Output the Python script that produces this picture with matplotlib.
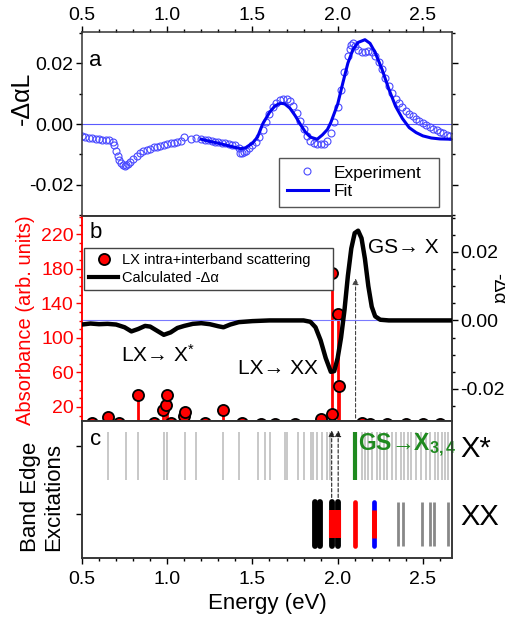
import matplotlib
matplotlib.use('Agg')
from matplotlib import pyplot as plt
from matplotlib.lines import Line2D
from matplotlib.ticker import MultipleLocator, FormatStrFormatter

# ---- data ----
# panel a: measured -dalpha*L (open circles)
exp_x = [0.50, 0.52, 0.54, 0.56, 0.58, 0.60, 0.62, 0.64, 0.66, 0.68, 0.69, 0.70, 0.71, 0.72,
         0.73, 0.74, 0.75, 0.76, 0.77, 0.78, 0.80, 0.82, 0.84, 0.86, 0.88, 0.90, 0.92, 0.94,
         0.96, 0.98, 1.00, 1.02, 1.04, 1.06, 1.08, 1.10, 1.14, 1.17, 1.20, 1.22, 1.24, 1.26,
         1.28, 1.30, 1.32, 1.34, 1.36, 1.38, 1.40, 1.42, 1.43, 1.44, 1.45, 1.46, 1.48, 1.50,
         1.52, 1.54, 1.56, 1.58, 1.60, 1.62, 1.64, 1.66, 1.68, 1.70, 1.72, 1.74, 1.76, 1.78,
         1.80, 1.82, 1.84, 1.86, 1.88, 1.90, 1.92, 1.94, 1.96, 1.98, 2.00, 2.02, 2.04, 2.06,
         2.07, 2.08, 2.09, 2.10, 2.12, 2.14, 2.16, 2.18, 2.20, 2.22, 2.24, 2.26, 2.28, 2.30,
         2.32, 2.34, 2.36, 2.38, 2.40, 2.42, 2.44, 2.46, 2.48, 2.50, 2.52, 2.54, 2.56, 2.58,
         2.60, 2.62, 2.64, 2.66]
exp_y = [-0.0040, -0.0043, -0.0045, -0.0047, -0.0049, -0.0050, -0.0052, -0.0052, -0.0051,
         -0.0058, -0.0070, -0.0088, -0.0105, -0.0118, -0.0128, -0.0134, -0.0137, -0.0135,
         -0.0130, -0.0124, -0.0114, -0.0104, -0.0096, -0.0090, -0.0085, -0.0081, -0.0077,
         -0.0074, -0.0071, -0.0068, -0.0066, -0.0064, -0.0061, -0.0059, -0.0057, -0.0042,
         -0.0049, -0.0046, -0.0050, -0.0052, -0.0054, -0.0056, -0.0058, -0.0060, -0.0062,
         -0.0064, -0.0066, -0.0068, -0.0070, -0.0080, -0.0094, -0.0096, -0.0092, -0.0087,
         -0.0080, -0.0070, -0.0058, -0.0042, -0.0020, 0.0005, 0.0032, 0.0055, 0.0070, 0.0079,
         0.0083, 0.0082, 0.0074, 0.0058, 0.0035, 0.0010, -0.0018, -0.0040, -0.0055, -0.0063,
         -0.0066, -0.0066, -0.0065, -0.0055, -0.0030, 0.0008, 0.0055, 0.0112, 0.0170, 0.0222,
         0.0245, 0.0260, 0.0265, 0.0255, 0.0243, 0.0238, 0.0237, 0.0240, 0.0237, 0.0225,
         0.0205, 0.0180, 0.0152, 0.0125, 0.0102, 0.0083, 0.0068, 0.0055, 0.0043, 0.0034,
         0.0026, 0.0018, 0.0011, 0.0004, -0.0003, -0.0009, -0.0015, -0.0021, -0.0026, -0.0031,
         -0.0035, -0.0040]

# panel a: fit
fit_x = [1.20, 1.25, 1.30, 1.35, 1.40, 1.43, 1.46, 1.50, 1.53, 1.56, 1.60, 1.63, 1.65, 1.67,
         1.69, 1.72, 1.75, 1.78, 1.81, 1.84, 1.88, 1.91, 1.94, 1.96, 2.00, 2.03, 2.06, 2.09,
         2.12, 2.16, 2.19, 2.22, 2.26, 2.30, 2.34, 2.38, 2.42, 2.46, 2.50, 2.55, 2.60, 2.67]
fit_y = [-0.0050, -0.0057, -0.0063, -0.0070, -0.0077, -0.0081, -0.0078, -0.0063, -0.0043,
         0.0000, 0.0038, 0.0058, 0.0065, 0.0068, 0.0066, 0.0052, 0.0028, 0.0000, -0.0026,
         -0.0043, -0.0050, -0.0036, -0.0018, 0.0005, 0.0065, 0.0134, 0.0200, 0.0245, 0.0268,
         0.0277, 0.0265, 0.0235, 0.0180, 0.0115, 0.0058, 0.0018, -0.0012, -0.0028, -0.0039,
         -0.0046, -0.0049, -0.0050]

# panel b: calculated -dalpha (right axis)
calc_x = [0.50, 0.55, 0.60, 0.65, 0.70, 0.75, 0.79, 0.83, 0.87, 0.90, 0.94, 0.98, 1.02, 1.06,
          1.10, 1.15, 1.20, 1.25, 1.30, 1.33, 1.37, 1.42, 1.50, 1.60, 1.70, 1.80, 1.84, 1.87,
          1.90, 1.93, 1.96, 1.98, 2.00, 2.02, 2.04, 2.06, 2.08, 2.10, 2.12, 2.14, 2.16, 2.18,
          2.20, 2.22, 2.25, 2.30, 2.67]
calc_y = [-0.0012, -0.0009, -0.0011, -0.0010, -0.0012, -0.0020, -0.0032, -0.0025, -0.0016,
          -0.0018, -0.0030, -0.0042, -0.0035, -0.0022, -0.0016, -0.0010, -0.0008, -0.0011,
          -0.0017, -0.0020, -0.0012, -0.0005, -0.0002, 0.0000, 0.0000, 0.0000, -0.0004,
          -0.0020, -0.0058, -0.0110, -0.0150, -0.0148, -0.0110, -0.0050, 0.0030, 0.0130,
          0.0210, 0.0255, 0.0262, 0.0240, 0.0180, 0.0100, 0.0040, 0.0012, 0.0002, 0.0000,
          0.0000]

# panel b: LX intra+interband scattering absorbance (left axis)
lx_x = [0.56, 0.655, 0.72, 0.83, 0.92, 0.977, 0.993, 1.00, 1.02, 1.10, 1.105, 1.22, 1.33,
        1.44, 1.55, 1.63, 1.75, 1.90, 1.965, 1.965, 2.003, 2.007, 2.14, 2.19, 2.29, 2.40,
        2.50, 2.60]
lx_y = [1, 8, 1, 34, 1, 17, 22, 34, 1, 9, 14, 1, 16, 1, 0.5, 0.5, 0.5, 6, 12, 175, 127, 44,
        1, 0.5, 0.5, 0.5, 0.5, 0.5]

# panel c: band edge excitations
xstar_x = [0.654, 0.756, 0.830, 0.981, 1.000, 1.104, 1.169, 1.330, 1.420, 1.534, 1.573,
           1.606, 1.694, 1.703, 1.769, 1.804, 1.841, 1.857, 1.880, 1.906, 1.935, 1.955,
           2.14, 2.16, 2.18, 2.20, 2.23, 2.25, 2.27, 2.29, 2.32, 2.34, 2.37, 2.39, 2.41,
           2.43, 2.46, 2.49, 2.52, 2.54, 2.57, 2.59, 2.61, 2.63, 2.65]
gs_x = 2.10
xx_black = [1.870, 1.899]
xx_black_red = [1.965, 2.003]
xx_red = [2.10]
xx_blue_red = [2.213]
xx_gray = [2.355, 2.381, 2.492, 2.541, 2.566, 2.648]
arrow_b_x = 2.105
arrow_c_x = [1.965, 2.003]
row_labels = ['X*', 'XX']

# ---- style ----
plt.rcParams['font.family'] = ['Liberation Sans', 'DejaVu Sans']
plt.rcParams['mathtext.fontset'] = 'custom'
plt.rcParams['mathtext.rm'] = 'Liberation Sans'
plt.rcParams['mathtext.it'] = 'Liberation Sans:italic'
plt.rcParams['mathtext.bf'] = 'Liberation Sans:bold'
plt.rcParams['axes.unicode_minus'] = False
plt.rcParams['axes.linewidth'] = 1.1
plt.rcParams['axes.edgecolor'] = '#333333'
for ax_name in ['xtick', 'ytick']:
    plt.rcParams[ax_name + '.direction'] = 'out'
    plt.rcParams[ax_name + '.major.size'] = 4.5
    plt.rcParams[ax_name + '.minor.size'] = 2.5
    plt.rcParams[ax_name + '.major.width'] = 1.0
    plt.rcParams[ax_name + '.minor.width'] = 1.0
    plt.rcParams[ax_name + '.labelsize'] = 14
    plt.rcParams[ax_name + '.major.pad'] = 1.5

xlim = (0.5, 2.67)

fig = plt.figure(figsize=(5.06, 6.17), dpi=100)
ax_a = fig.add_axes([0.162, 0.650, 0.731, 0.298])
ax_b = fig.add_axes([0.162, 0.318, 0.731, 0.332])
ax_b2 = ax_b.twinx()
ax_c = fig.add_axes([0.162, 0.0956, 0.731, 0.2224])

# ---- panel a ----
ax_a.plot(exp_x, exp_y, 'o', mfc='none', mec='#4a4aff', ms=5, mew=0.8, label='Experiment')
ax_a.plot(fit_x, fit_y, '-', color='#0000ee', lw=2.2, label='Fit')
ax_a.axhline(0, color='#5a5aff', lw=0.8, zorder=0)
ax_a.set_xlim(*xlim)
ax_a.set_ylim(-0.0302, 0.0302)
ax_a.set_yticks([-0.02, 0.0, 0.02])
ax_a.yaxis.set_major_formatter(FormatStrFormatter('%.2f'))
ax_a.yaxis.set_minor_locator(MultipleLocator(0.01))
ax_a.set_xticks([0.5, 1.0, 1.5, 2.0, 2.5])
ax_a.xaxis.set_major_formatter(FormatStrFormatter('%.1f'))
ax_a.xaxis.set_minor_locator(MultipleLocator(0.1))
ax_a.tick_params(axis='x', which='both', top=True, labeltop=True, bottom=False, labelbottom=False)
ax_a.tick_params(axis='y', which='both', left=True, right=True)
ax_a.text(0.543, 0.0209, 'a', fontsize=16, va='center')
ax_a.legend(loc='lower left', bbox_to_anchor=(0.532, 0.049, 0.433, 0.266), mode='expand',
            fontsize=12.5, fancybox=False, framealpha=1, edgecolor='#555555',
            handlelength=2.4, handletextpad=0.3, labelspacing=0.2, borderpad=0.45,
            borderaxespad=0)

# ---- panel b ----
ax_b.vlines(lx_x, 0, lx_y, color='red', lw=2, zorder=2)
ax_b.plot(lx_x, lx_y, 'o', mfc='red', mec='black', ms=8, mew=1.3, zorder=3)
ax_b.set_xlim(*xlim)
ax_b.set_ylim(4, 241)
ax_b.set_yticks([20, 60, 100, 140, 180, 220])
ax_b.yaxis.set_minor_locator(MultipleLocator(10))
ax_b.xaxis.set_major_locator(MultipleLocator(0.5))
ax_b.xaxis.set_minor_locator(MultipleLocator(0.1))
ax_b.tick_params(axis='x', which='both', bottom=True, labelbottom=False, top=False)
ax_b.tick_params(axis='y', which='both', colors='red', labelcolor='red')
ax_b.spines['left'].set_color('red')
ax_b.annotate('', xy=(arrow_b_x, 172), xytext=(arrow_b_x, 4),
              arrowprops=dict(arrowstyle='-|>', ls=(0, (3, 2)), lw=0.8, color='#444444',
                              mutation_scale=9))
ax_b.text(0.543, 222, 'b', fontsize=16, va='center')
ax_b.text(0.727, 80, r'LX→ X$^{*}$', fontsize=15, va='center')
ax_b.text(1.415, 65, 'LX→ XX', fontsize=15, va='center')
ax_b.text(2.177, 204, 'GS→ X', fontsize=15, va='center')

ax_b2.plot(calc_x, calc_y, color='black', lw=3.2, zorder=3)
ax_b2.axhline(0, color='#7a7aff', lw=0.8, zorder=1)
ax_b2.set_ylim(-0.0293, 0.0305)
ax_b2.set_yticks([-0.02, 0.0, 0.02])
ax_b2.yaxis.set_major_formatter(FormatStrFormatter('%.2f'))
ax_b2.yaxis.set_minor_locator(MultipleLocator(0.005))
ax_b2.spines['left'].set_color('red')
handles = [Line2D([], [], ls='none', marker='o', mfc='red', mec='black', ms=8, mew=1.3),
           Line2D([], [], color='black', lw=3)]
ax_b2.legend(handles, ['LX intra+interband scattering', 'Calculated -Δα'],
             loc='upper left', bbox_to_anchor=(0.005, 0.629, 0.673, 0.215), mode='expand',
             fontsize=10.5, fancybox=False, framealpha=1, edgecolor='#444444',
             handlelength=2.0, handletextpad=0.3, labelspacing=0.3, borderpad=0.35,
             borderaxespad=0)

# ---- panel c ----
ax_c.vlines(xstar_x, 0.5, 1.21, color='#c4c4c4', lw=1.3)
ax_c.vlines(gs_x, 0.5, 1.21, color='#1f8a1f', lw=3)
ax_c.text(2.12, 1.0, r'GS→X$_{\mathbf{3,4}}$', color='#1f8a1f', fontsize=16.5,
          fontweight='bold', va='center')
bar_top, bar_bot, mid_top, mid_bot = 0.17, -0.47, 0.06, -0.35
ax_c.vlines(xx_black, bar_bot, bar_top, color='black', lw=4.2, capstyle='round')
ax_c.vlines(xx_black_red, bar_bot, bar_top, color='black', lw=4.2, capstyle='round')
ax_c.vlines(xx_black_red, mid_bot, mid_top, color='red', lw=4.4)
ax_c.vlines(xx_red, bar_bot, bar_top, color='red', lw=3.4, capstyle='round')
ax_c.vlines(xx_blue_red, bar_bot, bar_top, color='blue', lw=3.4, capstyle='round')
ax_c.vlines(xx_blue_red, mid_bot, mid_top, color='red', lw=3.6)
ax_c.vlines(xx_gray, bar_bot, bar_top, color='#888888', lw=2)
for xa in arrow_c_x:
    ax_c.annotate('', xy=(xa, 1.27), xytext=(xa, 0.2),
                  arrowprops=dict(arrowstyle='-|>', ls=(0, (3, 2)), lw=0.8, color='#222222',
                                  mutation_scale=9))
ax_c.text(0.547, 1.1, 'c', fontsize=16, va='center')
ax_c.set_xlim(*xlim)
ax_c.set_ylim(-0.65, 1.37)
ax_c.set_yticks([1, 0])
ax_c.tick_params(axis='y', labelleft=False)
ax_c.set_xticks([0.5, 1.0, 1.5, 2.0, 2.5])
ax_c.xaxis.set_minor_locator(MultipleLocator(0.1))
ax_c.xaxis.set_major_formatter(FormatStrFormatter('%.1f'))
ax_c.tick_params(axis='x', which='major', pad=5)
ax_c_r = ax_c.twinx()
ax_c_r.set_ylim(-0.65, 1.37)
ax_c_r.set_yticks([1, 0])
ax_c_r.set_yticklabels(row_labels)
ax_c_r.tick_params(axis='y', length=0, pad=6, labelsize=21)

# ---- axis titles ----
fig.text(0.043, 0.841, '-ΔαL', fontsize=18, rotation=90, ha='center', va='center')
fig.text(0.050, 0.481, 'Absorbance (arb. units)', fontsize=14.5, color='red', rotation=90,
         ha='center', va='center')
fig.text(0.083, 0.194, 'Band Edge\nExcitations', fontsize=16, rotation=90, ha='center',
         va='center', linespacing=1.1)
fig.text(0.984, 0.533, '-Δα', fontsize=14, rotation=270, ha='center', va='center')
fig.text(0.528, 0.022, 'Energy (eV)', fontsize=16, ha='center', va='center')

fig.savefig('out.png', dpi=100)
